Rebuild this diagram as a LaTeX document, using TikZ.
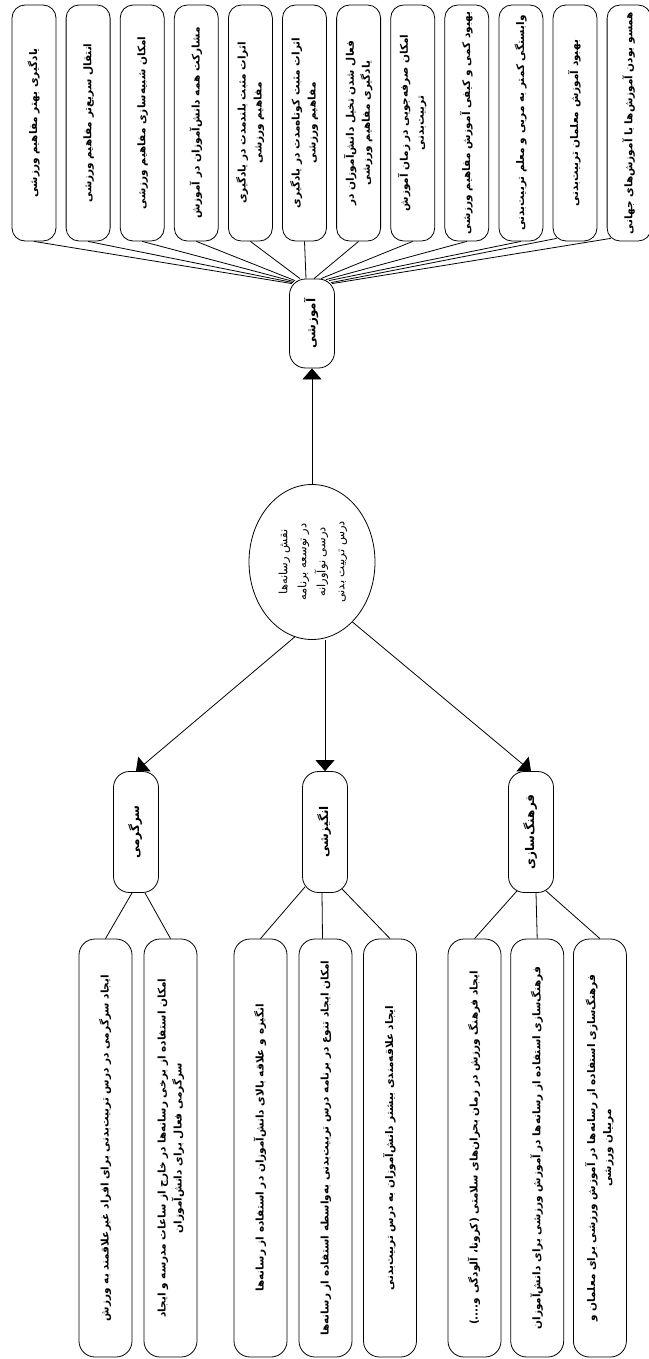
\documentclass[tikz,border=0pt]{standalone}
\usepackage{fontspec}
\usepackage{graphicx}
\usepackage{tikz}
\usetikzlibrary{arrows.meta,shapes.geometric,positioning}

\TeXXeTstate=1
\newfontfamily\fafont[Script=Arabic]{DejaVu Sans}
\newcommand{\zw}{^^^^200c}
\newcommand{\fa}[1]{{\fafont\beginR #1\endR}}
\newcommand{\uptext}[1]{\rotatebox{90}{\begin{tabular}{@{}c@{}}#1\end{tabular}}}

\begin{document}
\begin{tikzpicture}[x=1pt,y=-1pt,line width=0.8pt,>={Triangle[width=19pt,length=11pt]},
                    node distance=54.1pt,font=\fontsize{10.5}{16}\selectfont\bfseries]

  \tikzstyle{topbox} = [draw, rounded corners=13pt, minimum width=44pt, minimum height=236pt, inner sep=0pt]
  \tikzstyle{catbox} = [draw, rounded corners=16pt, minimum width=45pt, minimum height=121pt, inner sep=0pt, font=\fontsize{12}{16}\selectfont\bfseries]
  \tikzstyle{subbox} = [draw, rounded corners=16pt, minimum width=53pt, minimum height=418pt, inner sep=0pt]

  \useasboundingbox (0,0) rectangle (648,1359);

  % centre
  \node[draw, ellipse, minimum width=126pt, minimum height=155pt, inner sep=0pt,
        font=\fontsize{11.5}{19}\selectfont] (core) at (312,562)
       {\uptext{\fa{نقش رسانه\zw ها}\\\fa{در توسعه برنامه}\\\fa{درسی نوآورانه}\\\fa{درس تربیت بدنی}}};

  % top branch
  \node[catbox, minimum height=89pt] (amz) at (312,323.5) {\uptext{\fa{آموزشی}}};
  \node[topbox] (t1)                 at (34,123) {\uptext{\fa{یادگیری بهتر مفاهیم ورزشی}}};
  \node[topbox] (t2)  [right of=t1]  {\uptext{\fa{انتقال سریع\zw تر مفاهیم ورزشی}}};
  \node[topbox] (t3)  [right of=t2]  {\uptext{\fa{امکان شبیه\zw سازی مفاهیم ورزشی}}};
  \node[topbox] (t4)  [right of=t3]  {\uptext{\fa{مشارکت همه دانش\zw آموزان در آموزش}}};
  \node[topbox] (t5)  [right of=t4]  {\uptext{\fa{اثرات مثبت بلندمدت در یادگیری}\\\fa{مفاهیم ورزشی}}};
  \node[topbox] (t6)  [right of=t5]  {\uptext{\fa{اثرات مثبت کوتاه\zw مدت در یادگیری}\\\fa{مفاهیم ورزشی}}};
  \node[topbox] (t7)  [right of=t6]  {\uptext{\fa{فعال شدن تخیل دانش\zw آموزان در}\\\fa{یادگیری مفاهیم ورزشی}}};
  \node[topbox] (t8)  [right of=t7]  {\uptext{\fa{امکان صرفه\zw جویی در زمان آموزش}\\\fa{تربیت\zw بدنی}}};
  \node[topbox] (t9)  [right of=t8]  {\uptext{\fa{بهبود کمی و کیفی آموزش مفاهیم ورزشی}}};
  \node[topbox] (t10) [right of=t9]  {\uptext{\fa{وابستگی کمتر به مربی و معلم تربیت\zw بدنی}}};
  \node[topbox] (t11) [right of=t10] {\uptext{\fa{بهبود آموزش معلمان تربیت\zw بدنی}}};
  \node[topbox] (t12) [right of=t11] {\uptext{\fa{همسو بودن آموزش\zw ها با آموزش\zw های جهانی}}};

  % lower branches
  \node[catbox] (sarg) at (136,832) {\uptext{\fa{سرگرمی}}};
  \node[catbox] (angz) at (325,832) {\uptext{\fa{انگیزشی}}};
  \node[catbox] (frhg) at (531,832) {\uptext{\fa{فرهنگ\zw سازی}}};

  \node[subbox] (s1) at (105.5,1148) {\uptext{\fa{ایجاد سرگرمی در درس تربیت\zw بدنی برای افراد غیرعلاقمند به ورزش}}};
  \node[subbox] (s2) [right of=s1, node distance=65pt]
       {\uptext{\fa{امکان استفاده از برخی رسانه\zw ها در خارج از ساعات مدرسه و ایجاد}\\\fa{سرگرمی فعال برای دانش\zw آموزان}}};
  \node[subbox] (a1) at (260.5,1148) {\uptext{\fa{انگیزه و علاقه بالای دانش\zw آموزان در استفاده از رسانه\zw ها}}};
  \node[subbox] (a2) [right of=a1, node distance=65pt]
       {\uptext{\fa{امکان ایجاد تنوع در برنامه درس تربیت\zw بدنی به\zw واسطه استفاده از رسانه\zw ها}}};
  \node[subbox] (a3) [right of=a2, node distance=64.5pt]
       {\uptext{\fa{ایجاد علاقه\zw مندی بیشتر دانش\zw آموزان به درس تربیت\zw بدنی}}};
  \node[subbox] (f1) at (474.5,1148) {\uptext{\fa{ایجاد فرهنگ ورزش در زمان بحران\zw های سلامتی (کرونا، آلودگی و....)}}};
  \node[subbox] (f2) [right of=f1, node distance=62.7pt]
       {\uptext{\fa{فرهنگ\zw سازی استفاده از رسانه\zw ها در آموزش ورزشی برای دانش\zw آموزان}}};
  \node[subbox] (f3) [right of=f2, node distance=62.7pt]
       {\uptext{\fa{فرهنگ\zw سازی استفاده از رسانه\zw ها در آموزش ورزشی برای معلمان و}\\\fa{مربیان ورزشی}}};

  \path[->] (core.north) edge (amz.south)
            (core.-103) edge (sarg.north)
            (core.south -| angz.north) edge (angz.north)
            (core.-56) edge (frhg.north);

  \path ([xshift=-20pt,yshift=-5pt]amz.north) edge (t1.south)
        ([xshift=-19pt,yshift=-4pt]amz.north) edge (t2.south)
        ([xshift=-18pt,yshift=-3pt]amz.north) edge (t3.south)
        ([xshift=-17pt,yshift=-2pt]amz.north) edge (t4.south)
        ([xshift=-12pt]amz.north) edge (t5.south)
        ([xshift=-6pt]amz.north) edge (t6.south)
        ([xshift=2pt]amz.north) edge (t7.south)
        ([xshift=9pt]amz.north) edge (t8.south)
        ([xshift=14pt,yshift=-1pt]amz.north) edge (t9.south)
        ([xshift=17pt,yshift=-2pt]amz.north) edge (t10.south)
        ([xshift=19pt,yshift=-4pt]amz.north) edge ([xshift=4pt,yshift=3pt]t11.south west)
        ([xshift=20pt,yshift=-5pt]amz.north) edge ([xshift=4pt,yshift=3pt]t12.south west);

  \path ([xshift=-4pt]sarg.south) edge (s1.north)
        ([xshift=9pt]sarg.south) edge (s2.north)
        ([xshift=-20pt,yshift=6pt]angz.south) edge (a1.north)
        ([xshift=-3pt]angz.south) edge ([xshift=-3pt]a2.north)
        ([xshift=17pt,yshift=4pt]angz.south) edge (a3.north)
        ([xshift=-14pt,yshift=2pt]frhg.south) edge (f1.north)
        ([xshift=5pt]frhg.south) edge (f2.north)
        ([xshift=15pt,yshift=2pt]frhg.south) edge (f3.north);
\end{tikzpicture}
\end{document}
